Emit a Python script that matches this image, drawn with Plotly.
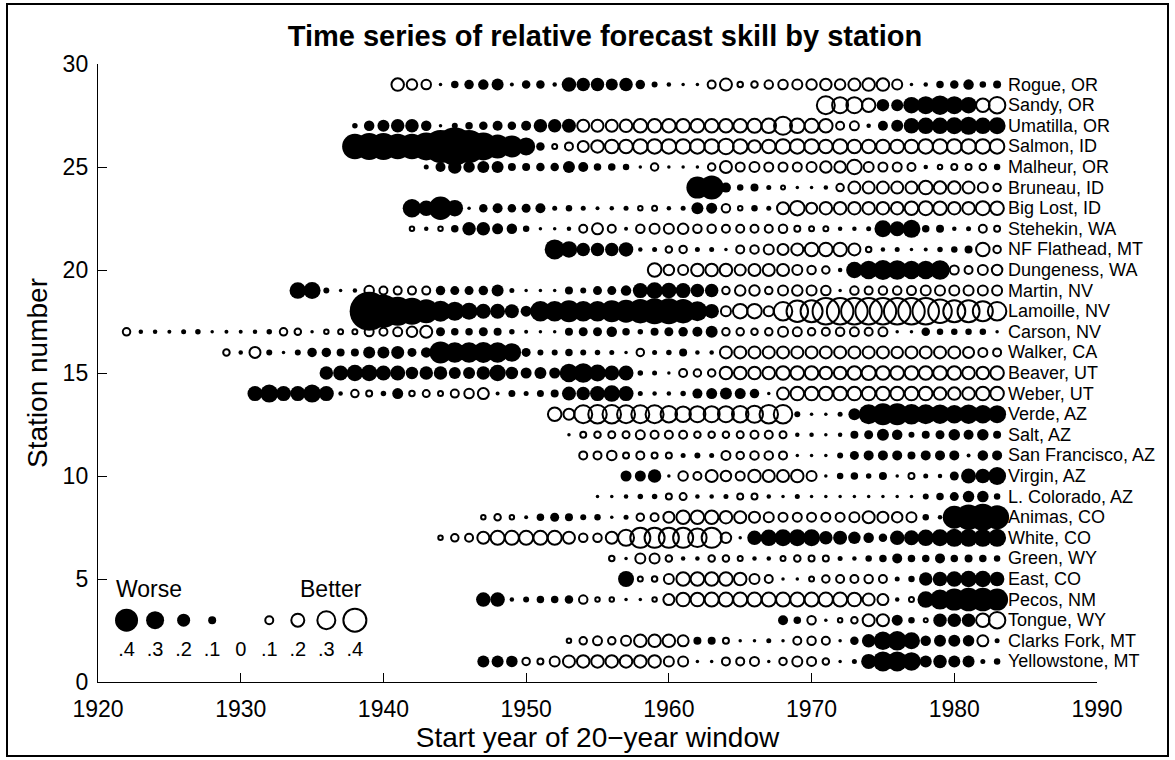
import plotly.graph_objects as go

# ---------------- data (relative skill; negative = worse (filled), positive = better (open)) ----
station_names = ["Yellowstone, MT", "Clarks Fork, MT", "Tongue, WY", "Pecos, NM", "East, CO",
                 "Green, WY", "White, CO", "Animas, CO", "L. Colorado, AZ", "Virgin, AZ",
                 "San Francisco, AZ", "Salt, AZ", "Verde, AZ", "Weber, UT", "Beaver, UT",
                 "Walker, CA", "Carson, NV", "Lamoille, NV", "Martin, NV", "Dungeness, WA",
                 "NF Flathead, MT", "Stehekin, WA", "Big Lost, ID", "Bruneau, ID", "Malheur, OR",
                 "Salmon, ID", "Umatilla, OR", "Sandy, OR", "Rogue, OR"]

start_years = [1947, 1953, 1968, 1947, 1957, 1956, 1944, 1947, 1955, 1957,
               1954, 1953, 1952, 1931, 1936, 1929, 1922, 1939, 1934, 1959,
               1952, 1942, 1942, 1962, 1943, 1938, 1938, 1971, 1941]

yellowstone = [-.18, -.18, -.17, .09, .06, .14, .18, .19, .19, .19, .19, .19, .19, .14, .14, -.01,
               -.01, .10, .10, .12, .01, .09, .14, .12, .07, .01, -.04, -.24, -.34, -.34, -.31, -.18,
               -.21, -.18, -.18, -.04, -.07]
clarks_fork = [.03, .09, .12, .09, .14, .19, .19, .19, .16,
               -.10, -.10, .06, .01, .01, -.04, -.01, .10, .11, .10, .01, -.11, -.21, -.31, -.33,
               -.28, -.15, -.18, -.18, -.17, .16, -.04]
tongue = [-.14, -.09, .11, .01, .03, .07, .18, .18, -.16, -.07, .02, -.21, -.21, -.21, .21, .27]
pecos = [-.23, -.23, -.03, -.06, -.09, -.09, -.11, .11, .03, .03, .01, -.01, .03, .16, .21, .21,
         .22, .22, .22, .22, .22, .22, .22, .22, .22, .22, .21, .18, .16, -.03, .04, -.27, -.34,
         -.38, -.41, -.41, -.38]
east = [-.26, .04, .05, .14, .21, .21,
        .21, .21, .19, .14, .10, .01, .01, .04, .09, .10, .10, .11, .10, -.04, -.07, -.21, -.23,
        -.25, -.27, -.27, -.23]
green = [.05, .01, .14, .14, .07, -.03, -.03,
         .07, .07, .04, -.03, -.03, .04, .07, .06, .06, -.04, -.03, -.07, -.09, -.14, -.09, -.09,
         -.14, -.09, -.10, -.09, -.07]
white = [.03, .09, .10, .18, .22, .22, .22, .22, .22, .18, .11, .11, .18, .26, .34, .34, .34, .34, .31,
         .34, .15, -.01, -.23, -.27, -.28, -.28, -.28, -.21, -.22, -.19, -.15, -.11, -.23, -.24,
         -.27, -.28, -.30, -.30, -.30, -.30]
animas = [.03, .07, .03, -.02, -.09, -.12, -.10, -.06, -.07, -.01, -.04, .09, .10, .16, .21, .21,
          .21, .19, .18, .16, .14, .12, .12, .12, .12, .12, .14, .18, .16, .15, .14, -.07, -.03,
          -.40, -.45, -.48, -.42]
l_colorado = [-.01, -.01, -.03, -.05, -.05, .06, .08,
              -.03, -.03, -.04, .06, .06, -.03, -.01, -.04, -.01, -.01, -.01, -.01, -.01, -.01,
              -.01, -.01, -.06, -.09, -.12, -.17, -.17, -.07]
virgin = [-.16, -.16, -.21, -.01, .13,
          .10, .18, .15, .12, .19, .18, .18, .19, .14, .01, -.07, -.09, -.05, -.10, -.01, .06,
          -.04, -.03, -.12, -.24, -.23, -.30]
san_francisco = [.10, .10, .13, .06, .10, .06, .06, -.04,
                 -.06, -.04, .12, .09, .11, .11, .10, -.01, -.01, -.01, -.06, -.12, -.14, -.14,
                 -.14, -.10, -.14, -.14, -.14, -.02, -.15, -.14]
salt = [.01, .06, .07, .08, .08, .12, .10, .10, .10,
        .07, .07, .07, .08, .10, .10, .08, -.03, -.03, -.01, -.03, -.10, -.12, -.18, -.15, -.06,
        -.10, -.12, -.17, -.14, -.17, -.10]
verde = [.21, .16, .30, .31, .31, .30, .30, .30, .27, .25,
         .26, .26, .26, .27, .28, .31, .31, -.06, -.01, -.01, -.04, -.18, -.34, -.38, -.38, -.35,
         -.34, -.33, -.31, -.33, -.31, -.30]
weber = [-.24, -.30, -.24, -.24, -.30, -.24, -.03, .09, .06, -.05, -.16, .05, .08, .04, .10, .13,
         .16, -.02, -.08, -.04, -.08, -.10, -.22, -.21, -.24, -.27, -.24, -.04, -.03, -.03, -.05,
         -.14, -.16, -.18, -.16, -.13, -.01, .18, .21, .21, .21, .21, .21, .21, .21, .21, .21,
         .21, .19, .19, .19, .21, .21]
beaver = [-.21, -.24, -.27, -.27, -.24, -.24, -.19, -.21, -.21, -.18, -.18, -.21, -.27, -.19, -.16,
          -.18, -.16, -.31, -.33, -.28, -.24, -.24, -.05, -.04, -.01, .10,
          .09, .09, .19, .19, .19, .19, .21, .21, .21, .19, .19, .21, .22, .21, .21, .21, .21,
          .21, .21, .19, .19, .21]
walker = [.07, -.03, .16, -.06, -.01, -.06, -.13, -.13, -.10, -.10, -.18, -.18, -.20, -.12, -.15,
          -.38, -.35, -.35, -.36, -.35, -.31, -.12, -.06, -.06, -.09, -.06, -.05, -.04, -.01, .09,
          -.04, -.05, -.10,
          -.03, -.03, .18, .18, .18, .18, .18, .18, .18, .18, .18, .18, .18, .18, .17, .18, .18,
          .18, .18, .16, .12, .10]
carson = [.09, -.03, -.03, -.02, -.04, -.05, -.01, -.02, -.02, -.03, -.05, .09, .07, .01, .03, .04,
          .04, .12, .10, .12, .15, .18, -.12, -.09, -.09, -.12, -.10, -.05, -.02, -.01, .01, -.10,
          -.12, -.12, -.15, -.09, -.05, -.10, -.12, -.13,
          -.14, -.18, .09, .09, .07, .09, .14, .12, .09, .10, .11, .12, .10, .12, -.01, -.01,
          -.11, -.07, -.07, -.07, -.07, -.01]
lamoille = [-.72, -.60, -.52, -.48, -.42, -.36, -.32, -.28, -.24, -.24, -.22, -.16, -.35, -.35,
            -.38, -.35, -.35, -.38, -.40, -.43, -.46, -.46, -.43,
            -.34, -.23, .14, .23, .23, .14, .31, .37, .38, .47, .47, .47, .47, .47, .47, .47, .47,
            .41, .38, .38, .34, .31]
martin = [-.27, -.28, -.06, -.01, -.03, .13, .10, .10, .10, .10, -.13, -.12, -.12, -.13, -.18,
          -.04, -.01, -.01, -.01, -.10, -.06, -.12, -.12, -.15, -.24, -.27, -.25, -.24,
          -.21, -.21, .09, .15, .15, .09, .14, .15, .14, .13, -.01, .11, .10, .11, .11, .12, .14,
          .14, .14, .14, .14, .14]
dungeness = [.21, .15, .14,
             .19, .19, .19, .16, .18, .18, .18, .14, .11, .09, -.03, -.27, -.31, -.34, -.33, -.31,
             -.31, -.33, .12, .10, .14, .15]
nf_flathead = [-.34, -.27, -.21, -.21, -.21, -.23, -.03, -.04, .07, .09,
               -.04, -.04, -.01, .10, .11, .14, .16, .18, .21, .21, .21, .18, .05, -.03, -.04,
               -.01, -.02, -.05, -.07, -.10, .21, .09]
stehekin = [.03, -.03, .03, -.09, -.21, -.21, -.16, -.15, -.07, -.01, -.01, -.03, .10, .16, .10,
            -.02, .11, .14, .14, .15,
            .11, .11, .10, .10, .10, .10, .11, .06, .04, .04, -.03, -.03, -.04, -.28, -.24, -.30,
            -.09, -.10, -.03, -.04, .10, .06]
big_lost = [-.31, -.25, -.41, -.27, -.01, -.11, -.14, -.11, -.12, -.14, -.04, -.07, -.04, -.02,
            -.03, -.04, .03, .04, -.03, -.04,
            -.18, -.16, .11, .03, -.07, -.04, .18, .23, .16, .19, .19, .19, .19, .19, .19, .21,
            .22, .21, .19, .19, .22, .21]
bruneau = [-.38, -.42, -.14, -.07, -.10, -.04, .02, .01, .01, -.03, .09, .18, .18, .18, .18, .18,
           .21, .19, .19, .18, .14, .09]
malheur = [-.04, -.14, -.21, -.17, -.18, -.18, -.10, -.10, -.11, -.11, -.18, -.14, -.09, -.09,
           -.07, -.01, .09, .01, .01, .01,
           .09, .18, .12, .14, .12, .12, .12, .14, .17, .17, .23, .14, .12, .12, .10, -.03, .03,
           .06, .06, .07, -.07]
salmon = [-.45, -.48, -.48, -.45, -.45, -.50, -.60, -.70, -.60, -.50, -.42, -.38, -.30, -.11, .04,
          .10, .16, .19, .21, .21, .23, .23, .23, .23, .23,
          .23, .25, .23, .19, .21, .23, .23, .23, .21, .23, .21, .21, .21, .21, .21, .23, .23,
          .23, .23, .23, .23]
umatilla = [-.05, -.15, -.18, -.21, -.21, -.15, -.01, -.06, -.09, -.11, -.14, -.11, -.14, -.21,
            -.21, -.22, .18, .18, .18, .19, .21, .21, .21, .21, .21,
            .21, .21, .21, .22, .23, .30, .23, .22, .21, .10, .12, -.03, -.14, -.18, -.25, -.27,
            -.27, -.28, -.30, -.27, -.28]
sandy = [.30, .26, .26, .21, -.19, -.18, -.27, -.30, -.33, -.30, -.27, .21, .27]
rogue = [.19, .15, .13, -.01, -.09, -.13, -.15, -.18, -.02, -.11, -.11, -.03, -.23, -.21, -.21,
         -.18, -.21, -.13, -.06, -.03, -.01, -.01,
         .10, .18, .05, .07, .11, .13, .14, .15, .17, .15, .18, .19, .19, .14, -.01, -.03, -.09,
         -.11, -.15, -.07, -.10]

series = [yellowstone, clarks_fork, tongue, pecos, east, green, white, animas, l_colorado, virgin,
          san_francisco, salt, verde, weber, beaver, walker, carson, lamoille, martin, dungeness,
          nf_flathead, stehekin, big_lost, bruneau, malheur, salmon, umatilla, sandy, rogue]

# legend key
legend_values = [-.4, -.3, -.2, -.1, 0, .1, .2, .3, .4]
legend_labels = [".4", ".3", ".2", ".1", "0", ".1", ".2", ".3", ".4"]
legend_years = [1922, 1924, 1926, 1928, 1930, 1932, 1934, 1936, 1938]
legend_row = 3

x_ticks = [1920, 1930, 1940, 1950, 1960, 1970, 1980, 1990]
y_ticks = [0, 5, 10, 15, 20, 25, 30]


def diam(v):
    return 3 + 50 * abs(v)


fx, fy, fs, ox, oy, osz = [], [], [], [], [], []
for i, vals in enumerate(series):
    st = i + 1
    for k, v in enumerate(vals):
        yr = start_years[i] + k
        if v < 0 or abs(v) < 0.015:
            fx.append(yr); fy.append(st); fs.append(diam(v))
        else:
            ox.append(yr); oy.append(st); osz.append(diam(v))

for yr, v in zip(legend_years, legend_values):
    if v < 0:
        fx.append(yr); fy.append(legend_row); fs.append(diam(v))
    elif v > 0:
        ox.append(yr); oy.append(legend_row); osz.append(diam(v))

FONT = "Liberation Sans, Arial, Helvetica, sans-serif"

fig = go.Figure()
fig.add_trace(go.Scatter(x=fx, y=fy, mode="markers", cliponaxis=False, hoverinfo="skip",
                         marker=dict(symbol="circle", size=fs, color="black", opacity=1,
                                     line=dict(width=0))))
fig.add_trace(go.Scatter(x=ox, y=oy, mode="markers", cliponaxis=False, hoverinfo="skip",
                         marker=dict(symbol="circle-open", size=osz, color="black", opacity=1,
                                     line=dict(width=2, color="black"))))

# legend labels
fig.add_trace(go.Scatter(x=legend_years, y=[1.5] * len(legend_years), mode="text",
                         text=legend_labels, cliponaxis=False, hoverinfo="skip",
                         textfont=dict(size=20, color="black", family=FONT)))

annotations = []
for i, name in enumerate(station_names):
    annotations.append(dict(x=1983.6, y=i + 1, xref="x", yref="y", text=name, showarrow=False,
                            xanchor="left", yanchor="middle",
                            font=dict(size=18, color="black", family=FONT)))
annotations.append(dict(x=1923.6, y=4.5, xref="x", yref="y", text="Worse", showarrow=False,
                        xanchor="center", yanchor="middle",
                        font=dict(size=23, color="black", family=FONT)))
annotations.append(dict(x=1936.3, y=4.5, xref="x", yref="y", text="Better", showarrow=False,
                        xanchor="center", yanchor="middle",
                        font=dict(size=23, color="black", family=FONT)))

L, R, T, B = 98, 78, 64, 78
PW, PH = 1175 - L - R, 760 - T - B


def px2paper_x(px):
    return (px - L) / PW


def px2paper_y(py):
    return (760 - B - py) / PH


fig.update_layout(
    width=1175, height=760,
    margin=dict(l=L, r=R, t=T, b=B, pad=0),
    paper_bgcolor="white", plot_bgcolor="white",
    showlegend=False,
    font=dict(family=FONT, color="black", size=18),
    title=dict(text="<b>Time series of relative forecast skill by station</b>",
               x=px2paper_x(605), xref="paper", xanchor="center",
               y=1 - 36 / 760, yref="container", yanchor="middle",
               font=dict(size=29, family=FONT, color="black")),
    xaxis=dict(range=[1920, 1990], tickvals=x_ticks, ticks="inside", ticklen=9, tickwidth=1.4,
               tickcolor="black", showline=True, linecolor="black", linewidth=1.4,
               showgrid=False, zeroline=False, mirror=False, ticklabelstandoff=6,
               tickfont=dict(size=23, family=FONT),
               title=dict(text="Start year of 20\u2212year window", standoff=5,
                          font=dict(size=28, family=FONT))),
    yaxis=dict(range=[0, 30], tickvals=y_ticks, ticks="inside", ticklen=9, tickwidth=1.4,
               tickcolor="black", showline=True, linecolor="black", linewidth=1.4,
               showgrid=False, zeroline=False, mirror=False, ticklabelstandoff=4,
               tickfont=dict(size=23, family=FONT),
               title=dict(text="Station number", standoff=6,
                          font=dict(size=28, family=FONT))),
    annotations=annotations,
    shapes=[dict(type="rect", xref="paper", yref="paper",
                 x0=px2paper_x(7), x1=px2paper_x(1168),
                 y0=px2paper_y(756), y1=px2paper_y(4),
                 line=dict(color="black", width=2), fillcolor="rgba(0,0,0,0)", layer="below")],
)

fig.write_html("out.html")
